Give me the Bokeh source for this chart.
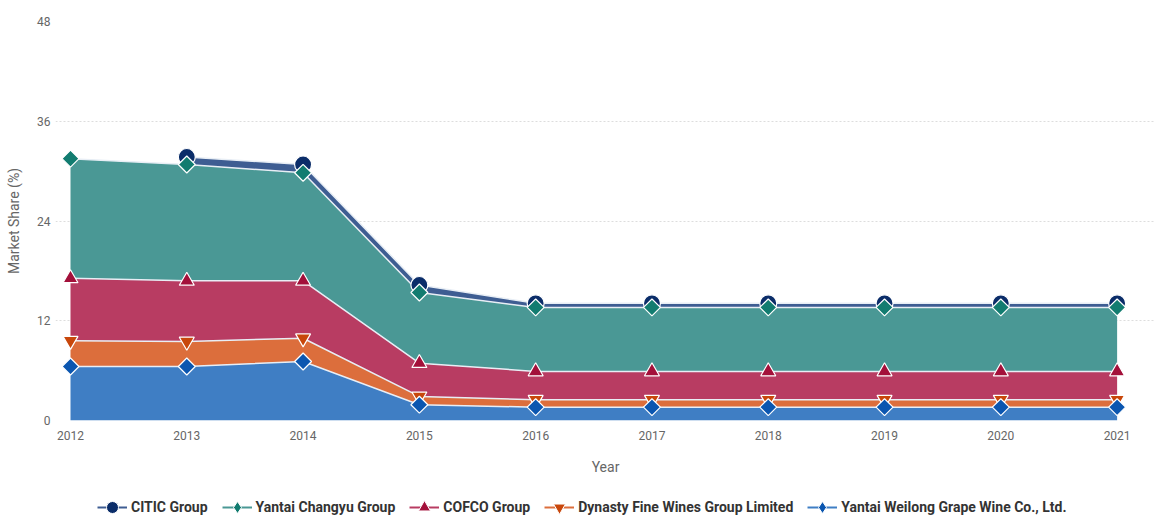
from bokeh.plotting import figure
from bokeh.models import Legend, LegendItem, Range1d, FixedTicker
from bokeh.layouts import column
from bokeh.embed import file_html
from bokeh.resources import INLINE
import numpy as np

years = [2012, 2013, 2014, 2015, 2016, 2017, 2018, 2019, 2020, 2021]
weilong = [6.5, 6.5, 7.1, 1.9, 1.6, 1.6, 1.6, 1.6, 1.6, 1.6]
dynasty = [3.1, 3.0, 2.8, 1.0, 0.9, 0.9, 0.9, 0.9, 0.9, 0.9]
cofco = [7.5, 7.3, 6.9, 4.0, 3.4, 3.4, 3.4, 3.4, 3.4, 3.4]
changyu = [14.4, 14.0, 13.0, 8.5, 7.7, 7.7, 7.7, 7.7, 7.7, 7.7]
citic = [None, 0.9, 1.0, 0.9, 0.5, 0.5, 0.5, 0.5, 0.5, 0.5]

series_names = ["Yantai Weilong Grape Wine Co., Ltd.", "Dynasty Fine Wines Group Limited",
                "COFCO Group", "Yantai Changyu Group", "CITIC Group"]
y_ticks = [0, 12, 24, 36, 48]

area_colors = ["#3f7ec4", "#dc6e3c", "#b83c62", "#4a9895", "#3e5d92"]
marker_colors = ["#0b56b0", "#c8470b", "#a3103a", "#127c70", "#0b2d69"]
markers = ["square", "inverted_triangle", "triangle", "square", "circle"]
legend_markers = ["diamond", "inverted_triangle", "triangle", "diamond", "circle"]
legend_sizes = [15, 12, 12, 15, 13]
angles = [np.pi / 4, 0, 0, np.pi / 4, 0]
sizes = [12, 15, 15, 12, 17]

p = figure(frame_width=1100, frame_height=399, output_backend="svg", toolbar_location=None,
           x_range=Range1d(2011.871, 2021.33), y_range=Range1d(0, 48),
           min_border_left=55, min_border_right=3, min_border_top=21, min_border_bottom=58)
p.outline_line_color = None
p.background_fill_color = "white"
p.xgrid.grid_line_color = None
p.ygrid.grid_line_color = "#dddddd"
p.ygrid.grid_line_dash = "2 2"

x = np.array(years, dtype=float)
vals = [weilong, dynasty, cofco, changyu]
base = np.zeros(len(years))
tops = []
for i, v in enumerate(vals):
    top = base + np.array(v, dtype=float)
    p.varea(x=x, y1=base, y2=top, fill_color=area_colors[i], fill_alpha=1.0)
    tops.append((x, top))
    base = top

# CITIC band (missing first year)
cmask = np.array([c is not None for c in citic])
cvals = np.array([c if c is not None else 0 for c in citic], dtype=float)
ctop = base[cmask] + cvals[cmask]
p.varea(x=x[cmask], y1=base[cmask], y2=ctop, fill_color=area_colors[4], fill_alpha=1.0)
tops.append((x[cmask], ctop))

for i, (tx, ty) in enumerate(tops):
    p.line(tx, ty, line_color="#e8eef5", line_width=1.5)

for i in reversed(range(len(tops))):
    tx, ty = tops[i]
    p.scatter(tx, ty, marker=markers[i], size=sizes[i], angle=angles[i],
              fill_color=marker_colors[i], line_color="white", line_width=1.2)

p.xaxis.ticker = FixedTicker(ticks=years)
p.yaxis.ticker = FixedTicker(ticks=y_ticks)
for ax in (p.xaxis, p.yaxis):
    ax.axis_line_color = None
    ax.major_tick_line_color = None
    ax.minor_tick_line_color = None
    ax.major_tick_out = 0
    ax.major_tick_in = 0
    ax.major_label_text_color = "#666666"
    ax.major_label_text_font = "Roboto"
    ax.major_label_text_font_size = "12px"
    ax.axis_label_text_color = "#666666"
    ax.axis_label_text_font = "Roboto"
    ax.axis_label_text_font_style = "normal"
    ax.axis_label_text_font_size = "14px"
p.xaxis.axis_label = "Year"
p.yaxis.axis_label = "Market Share (%)"
p.xaxis.major_label_standoff = 10
p.xaxis.axis_label_standoff = 16
p.yaxis.major_label_standoff = 5
p.yaxis.axis_label_standoff = 12

# legend strip (legend glyph renderers sit outside the strip's visible range)
lg = figure(frame_width=1158, frame_height=37, output_backend="svg", toolbar_location=None,
            x_axis_location=None, y_axis_location=None, min_border=0,
            x_range=Range1d(0, 1), y_range=Range1d(0, 1))
lg.outline_line_color = None
lg.grid.grid_line_color = None
legend_map = {}
for i in range(len(series_names)):
    lr = lg.line([-10, -9], [-10, -10], line_color=area_colors[i], line_width=2)
    sr = lg.scatter([-10], [-10], marker=legend_markers[i], size=legend_sizes[i],
                    fill_color=marker_colors[i], line_color="white", line_width=1)
    legend_map[series_names[i]] = [lr, sr]

order = ["CITIC Group", "Yantai Changyu Group", "COFCO Group",
         "Dynasty Fine Wines Group Limited", "Yantai Weilong Grape Wine Co., Ltd."]
legend = Legend(items=[LegendItem(label=n, renderers=legend_map[n]) for n in order],
                orientation="horizontal", location=(97, -7),
                label_text_font="Roboto", label_text_font_style="bold",
                label_text_font_size="14px", label_text_color="#333333",
                glyph_width=30, glyph_height=30, label_height=16, label_standoff=4, spacing=14,
                border_line_color=None, background_fill_alpha=0,
                margin=0, padding=0)
lg.add_layout(legend, "center")

layout = column(p, lg, spacing=0)
open("out.html", "w").write(file_html(layout, INLINE))
